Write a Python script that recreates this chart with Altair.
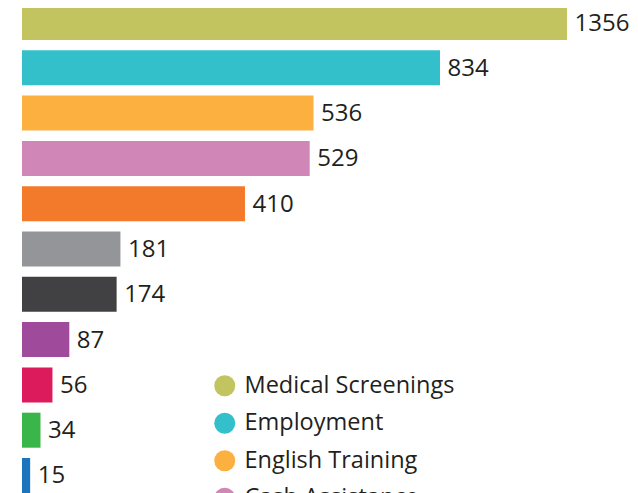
import altair as alt
import pandas as pd

categories = [
    "Medical Screenings", "Employment", "English Training", "Cash Assistance",
    "Housing Assistance", "Transportation", "Case Management", "Youth Services",
    "Legal Aid", "Citizenship", "Mental Health",
]
values = [1356, 834, 536, 529, 410, 181, 174, 87, 56, 34, 15]
colors = [
    "#C2C55F", "#33C0CA", "#FBB040", "#D086B7", "#F47A2B", "#939598",
    "#414042", "#A04A9C", "#DB1B5B", "#3AB54A", "#1C75BC",
]
# the infographic compresses the two longest bars (broken-scale look)
scale_breaks = [0, 536, 834, 1356]
scale_pixels = [0, 291.5, 418, 545]

df = pd.DataFrame({"category": categories, "value": values})

FONT = "Open Sans"
TEXT = "#231F20"

y = alt.Y("category:N", sort=categories, axis=None,
          scale=alt.Scale(paddingInner=0.227, paddingOuter=0))
x = alt.X("value:Q", axis=None,
          scale=alt.Scale(domain=scale_breaks, range=scale_pixels))

bars = alt.Chart(df).mark_bar().encode(
    x=x,
    y=y,
    color=alt.Color(
        "category:N",
        scale=alt.Scale(domain=categories, range=colors),
        sort=categories,
        legend=alt.Legend(
            title=None,
            orient="none",
            legendX=191,
            legendY=369,
            symbolType="circle",
            symbolSize=441,
            symbolStrokeWidth=0,
            labelFont=FONT,
            labelFontSize=23.5,
            labelColor=TEXT,
            labelOffset=8,
            labelLimit=0,
            rowPadding=12.5,
            padding=0,
        ),
    ),
)

labels = alt.Chart(df).mark_text(
    align="left", baseline="middle", dx=7.5, dy=1, fontSize=24, font=FONT, color=TEXT
).encode(x=x, y=y, text=alt.Text("value:Q", format="d"))

chart = (
    (bars + labels)
    .properties(
        width=608,
        height=488,
        autosize=alt.AutoSizeParams(type="none"),
        padding={"left": 14, "top": -3, "right": 0, "bottom": 0},
    )
    .configure_view(strokeWidth=0)
)

chart.save("out.html", embed_options={"renderer": "svg", "actions": False})
